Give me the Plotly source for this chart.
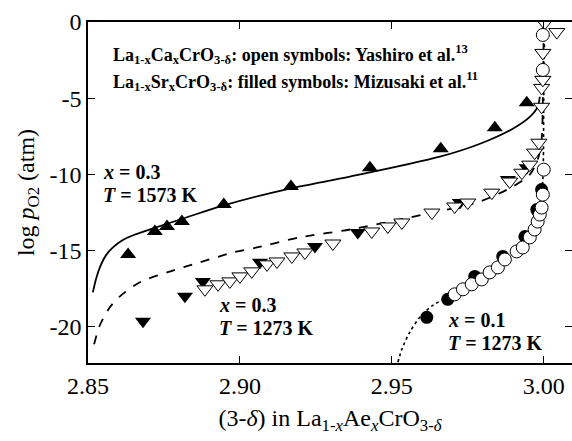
import plotly.graph_objects as go

# ---- data ----
# x = 0.3, Sr, T = 1573 K (filled up-triangles)
sr03_1573_x = [2.8632, 2.8720, 2.8760, 2.8809, 2.8947, 2.9168, 2.9428, 2.9661, 2.9839, 2.9944]
sr03_1573_y = [-15.27, -13.76, -13.43, -13.11, -11.99, -10.81, -9.57, -8.32, -6.95, -5.31]

# x = 0.3, Sr, T = 1273 K (filled down-triangles)
sr03_1273_x = [2.8681, 2.8819, 2.8878, 2.9066, 2.9247, 2.9388, 2.9487, 2.9724, 2.9882, 2.9944, 2.9997, 2.9997]
sr03_1273_y = [-19.66, -18.02, -17.04, -15.79, -14.74, -13.83, -13.43, -11.86, -10.35, -9.57, -3.80, -2.03]

# x = 0.3, Ca, T = 1273 K (open down-triangles)
ca03_1273_x = [2.8885, 2.8928, 2.8967, 2.9000, 2.9039, 2.9089, 2.9122, 2.9171, 2.9214, 2.9306,
               2.9434, 2.9487, 2.9533, 2.9632, 2.9707, 2.9750, 2.9829, 2.9888, 2.9928, 2.9954,
               2.9970, 2.9984, 2.9993, 2.9993, 2.9997, 2.9997, 3.0003, 3.0043]
ca03_1273_y = [-17.56, -17.23, -17.04, -16.71, -16.38, -15.92, -15.73, -15.40, -15.14, -14.55,
               -13.76, -13.43, -13.17, -12.52, -12.12, -11.86, -11.21, -10.48, -9.90, -9.37,
               -8.58, -7.93, -5.57, -4.33, -3.80, -2.03, -0.07, -0.66]

# x = 0.1, Sr, T = 1273 K (filled circles)
sr01_1273_x = [2.9615, 2.9684, 2.9773, 2.9865, 2.9938, 2.9977, 2.9993]
sr01_1273_y = [-19.40, -18.22, -16.71, -15.40, -14.09, -12.32, -11.01]

# x = 0.1, Ca, T = 1273 K (open circles)
ca01_1273_x = [2.9707, 2.9734, 2.9763, 2.9796, 2.9822, 2.9849, 2.9872, 2.9911, 2.9931, 2.9954,
               2.9970, 2.9980, 2.9987, 2.9993, 2.9997, 3.0000, 2.9997, 2.9997]
ca01_1273_y = [-17.89, -17.56, -17.23, -16.91, -16.45, -16.12, -15.60, -15.07, -14.81, -14.15,
               -13.63, -13.11, -12.65, -12.19, -11.34, -9.70, -3.15, -0.85]

# model curves
fit_1573_x = [2.8516, 2.8526, 2.8539, 2.8559, 2.8582, 2.8612, 2.8655, 2.8714, 2.8813, 2.8944,
              2.9164, 2.9362, 2.9658, 2.9799, 2.9898, 2.9954, 2.9980, 2.9987]
fit_1573_y = [-17.76, -16.91, -16.12, -15.33, -14.81, -14.35, -13.96, -13.56, -12.91, -12.06,
              -10.94, -10.16, -8.85, -7.93, -7.01, -6.23, -5.57, -4.91]

fit_03_1273_x = [2.8520, 2.8539, 2.8572, 2.8605, 2.8671, 2.8760, 2.8868, 2.8977, 2.9056, 2.9197,
                 2.9362, 2.9559, 2.9789, 2.9898, 2.9954, 2.9980, 2.9993, 2.9997, 3.0000]
fit_03_1273_y = [-21.17, -19.92, -18.74, -18.02, -17.10, -16.45, -15.79, -15.14, -14.81, -14.15,
                 -13.63, -12.84, -11.80, -10.81, -10.03, -9.04, -7.73, -5.11, 0.0]

fit_01_1273_x = [2.9520, 2.9533, 2.9559, 2.9592, 2.9635, 2.9684, 2.9757, 2.9855, 2.9921, 2.9970,
                 2.9987, 2.9997, 3.0000, 3.0003]
fit_01_1273_y = [-22.35, -21.49, -20.38, -19.40, -18.61, -18.09, -17.23, -15.73, -14.61, -13.30,
                 -12.32, -10.35, -5.11, 0.0]

x_ticks = [2.85, 2.90, 2.95, 3.00]
x_tick_text = ["2.85", "2.90", "2.95", "3.00"]
y_ticks = [0, -5, -10, -15, -20]
y_tick_text = ["0", "-5", "-10", "-15", "-20"]

FONT = "Liberation Serif"
X_RANGE = [2.85, 3.0093]
Y_RANGE = [-22.4, 0]

fig = go.Figure()

# curves
fig.add_trace(go.Scatter(x=fit_1573_x, y=fit_1573_y, mode="lines", line=dict(color="black", width=1.8, shape="spline", smoothing=0.8)))
fig.add_trace(go.Scatter(x=fit_03_1273_x, y=fit_03_1273_y, mode="lines", line=dict(color="black", width=1.8, dash="dash", shape="spline", smoothing=0.8)))
fig.add_trace(go.Scatter(x=fit_01_1273_x, y=fit_01_1273_y, mode="lines", line=dict(color="black", width=1.6, dash="dot", shape="spline", smoothing=0.8)))

# filled symbols first
fig.add_trace(go.Scatter(x=sr03_1573_x, y=sr03_1573_y, mode="markers",
                         marker=dict(symbol="triangle-up", size=14, color="black", line=dict(width=0))))
fig.add_trace(go.Scatter(x=sr03_1273_x, y=sr03_1273_y, mode="markers",
                         marker=dict(symbol="triangle-down", size=14, color="black", line=dict(width=0))))
fig.add_trace(go.Scatter(x=sr01_1273_x, y=sr01_1273_y, mode="markers",
                         marker=dict(symbol="circle", size=13, color="black", line=dict(width=0))))
# open symbols on top
fig.add_trace(go.Scatter(x=ca03_1273_x, y=ca03_1273_y, mode="markers",
                         marker=dict(symbol="triangle-down", size=14, color="white", line=dict(width=1, color="black"))))
fig.add_trace(go.Scatter(x=ca01_1273_x, y=ca01_1273_y, mode="markers",
                         marker=dict(symbol="circle", size=13, color="white", line=dict(width=1, color="black"))))

legend_font = dict(family=FONT, size=18, color="black", weight="bold")
label_font = dict(family=FONT, size=20, color="black", weight="bold")
# positions in paper fractions (x: 0..1 over plot width, y: 0..1 over plot height)
annotations = [
    dict(x=0.049, y=0.906, font=legend_font,
         text="La<sub>1-x</sub>Ca<sub>x</sub>CrO<sub>3-δ</sub>: open symbols: Yashiro et al.<sup>13</sup>"),
    dict(x=0.049, y=0.826, font=legend_font,
         text="La<sub>1-x</sub>Sr<sub>x</sub>CrO<sub>3-δ</sub>: filled symbols: Mizusaki et al.<sup>11</sup>"),
    dict(x=0.029, y=0.560, font=label_font, text="<i>x</i> = 0.3"),
    dict(x=0.029, y=0.493, font=label_font, text="<i>T</i> = 1573 K"),
    dict(x=0.268, y=0.170, font=label_font, text="<i>x</i> = 0.3"),
    dict(x=0.268, y=0.104, font=label_font, text="<i>T</i> = 1273 K"),
    dict(x=0.742, y=0.126, font=label_font, text="<i>x</i> = 0.1"),
    dict(x=0.742, y=0.058, font=label_font, text="<i>T</i> = 1273 K"),
]
for a in annotations:
    a.update(xref="paper", yref="paper", xanchor="left", yanchor="middle", align="left",
             showarrow=False, borderpad=0)

fig.update_layout(
    width=572, height=441,
    margin=dict(l=88, r=0, t=22, b=78),
    paper_bgcolor="white", plot_bgcolor="white",
    showlegend=False,
    font=dict(family=FONT, size=24, color="black"),
    annotations=annotations,
    xaxis=dict(range=X_RANGE, tickvals=x_ticks, ticktext=x_tick_text,
               ticks="inside", ticklen=7, tickwidth=1.2, tickcolor="black",
               showline=True, linecolor="black", linewidth=1.5, mirror="ticks",
               showgrid=False, zeroline=False,
               tickfont=dict(family=FONT, size=24),
               title=dict(text="(3-<i>δ</i>) in La<sub>1-<i>x</i></sub>Ae<sub><i>x</i></sub>CrO<sub>3-<i>δ</i></sub>",
                          font=dict(family=FONT, size=24), standoff=12)),
    yaxis=dict(range=Y_RANGE, tickvals=y_ticks, ticktext=y_tick_text,
               ticks="inside", ticklen=7, tickwidth=1.2, tickcolor="black",
               showline=True, linecolor="black", linewidth=1.5, mirror=False,
               showgrid=False, zeroline=False,
               tickfont=dict(family=FONT, size=24),
               title=dict(text="log <i>p</i><sub>O2</sub> (atm)", font=dict(family=FONT, size=24), standoff=8)),
    yaxis2=dict(range=Y_RANGE, overlaying="y", side="right", tickvals=y_ticks,
                ticks="inside", ticklen=7, tickwidth=1.2, tickcolor="black",
                showticklabels=False, showline=False, showgrid=False, zeroline=False),
)
fig.add_trace(go.Scatter(x=[X_RANGE[0]], y=[Y_RANGE[0]], yaxis="y2", mode="markers",
                         marker=dict(opacity=0), hoverinfo="skip"))

fig.write_html("out.html")
